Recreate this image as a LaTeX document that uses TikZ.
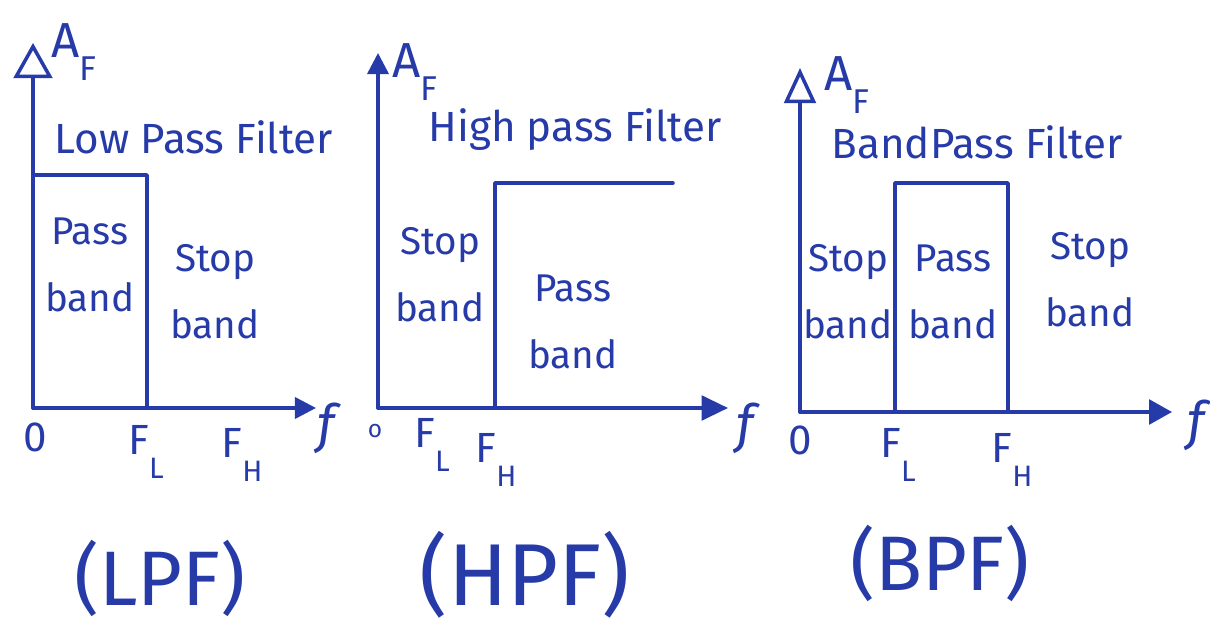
\documentclass[tikz,border=0pt]{standalone}
\usepackage{fontspec}
\setmainfont{Fira Sans}
\usetikzlibrary{arrows.meta}
\definecolor{ink}{RGB}{38,58,168}
\newcommand{\mysub}[2][0.45em]{\raisebox{-#1}{\scalebox{0.7}{#2}}}
\begin{document}
\begin{tikzpicture}[x=0.02cm,y=-0.02cm,
  ln/.style={draw=ink,line width=2pt,line cap=round,line join=round},
  lbl/.style={text=ink,font=\fontsize{22}{38}\selectfont,align=center,inner sep=0pt},
  ttl/.style={text=ink,font=\fontsize{24}{28}\selectfont,inner sep=0pt},
  af/.style={text=ink,font=\fontsize{28}{30}\selectfont,inner sep=0pt},
  tick/.style={text=ink,font=\fontsize{24}{26}\selectfont,inner sep=0pt},
  fl/.style={text=ink,font=\fontsize{30}{32}\selectfont\itshape,inner sep=0pt},
  big/.style={text=ink,font=\fontsize{44}{48}\selectfont,inner sep=0pt}]
\useasboundingbox (0,0) rectangle (1210,631);

% ---------- LPF ----------
\coordinate (O1) at (33,408);
\coordinate (Y1) at (33,43);
\coordinate (X1) at (316,408);
\coordinate (R1a) at (33,175);
\coordinate (R1b) at (147,175);
\coordinate (R1c) at (147,408);
\draw[ln,-{Triangle[open,length=20pt,width=22pt]}] (O1) -- (Y1);
\draw[ln,-{Triangle[length=12pt,width=12pt]}] (O1) -- (X1);
\draw[ln] (R1a) -- (R1b) -- (R1c);
\node[af] (af1) at (74,52) {A\mysub{F}};
\node[ttl] (t1) at (194,137) {Low Pass Filter};
\node[lbl] (p1) at (90,265) {Pass\\band};
\node[lbl] (s1) at (215,292) {Stop\\band};
\node[tick] (z1) at (35,437) {0};
\node[tick] (fl1) at (146,452) {F\mysub[0.55em]{L}};
\node[tick] (fh1) at (242,455) {F\mysub[0.55em]{H}};
\node[fl] (f1) at (326,428) {f};
\node[big] (n1) at (160,578) {(LPF)};

% ---------- HPF ----------
\coordinate (O2) at (378,408);
\coordinate (Y2) at (378,53);
\coordinate (X2) at (728,408);
\coordinate (R2a) at (495,408);
\coordinate (R2b) at (495,183);
\coordinate (R2c) at (673,183);
\draw[ln,-{Triangle[length=12pt,width=12pt]}] (O2) -- (Y2);
\draw[ln,-{Triangle[length=15pt,width=14pt]}] (O2) -- (X2);
\draw[ln] (R2a) -- (R2b) -- (R2c);
\node[af] (af2) at (415,72) {A\mysub{F}};
\node[ttl] (t2) at (575,130) {High pass Filter};
\node[lbl] (s2) at (440,275) {Stop\\band};
\node[lbl] (p2) at (573,322) {Pass\\band};
\node[tick,font=\fontsize{14}{16}\selectfont] (z2) at (375,431) {o};
\node[tick] (fl2) at (432,445) {F\mysub[0.55em]{L}};
\node[tick] (fh2) at (496,460) {F\mysub[0.55em]{H}};
\node[fl] (f2) at (745,428) {f};
\node[big,font=\fontsize{50}{54}\selectfont] (n2) at (525,575) {(HPF)};

% ---------- BPF ----------
\coordinate (O3) at (800,412);
\coordinate (Y3) at (800,68);
\coordinate (X3) at (1172,412);
\coordinate (R3a) at (895,412);
\coordinate (R3b) at (895,183);
\coordinate (R3c) at (1008,183);
\coordinate (R3d) at (1008,412);
\draw[ln,-{Triangle[open,length=20pt,width=18pt]}] (O3) -- (Y3);
\draw[ln,-{Triangle[length=13pt,width=14pt]}] (O3) -- (X3);
\draw[ln] (R3a) -- (R3b) -- (R3c) -- (R3d);
\node[af] (af3) at (847,85) {A\mysub{F}};
\node[ttl] (t3) at (977,142) {BandPass Filter};
\node[lbl] (s3) at (848,292) {Stop\\band};
\node[lbl] (p3) at (953,292) {Pass\\band};
\node[lbl] (s4) at (1090,280) {Stop\\band};
\node[tick] (z3) at (800,440) {0};
\node[tick] (fl3) at (898,455) {F\mysub[0.55em]{L}};
\node[tick] (fh3) at (1012,460) {F\mysub[0.55em]{H}};
\node[fl] (f3) at (1196,425) {f};
\node[big] (n3) at (940,563) {(BPF)};
\end{tikzpicture}
\end{document}
